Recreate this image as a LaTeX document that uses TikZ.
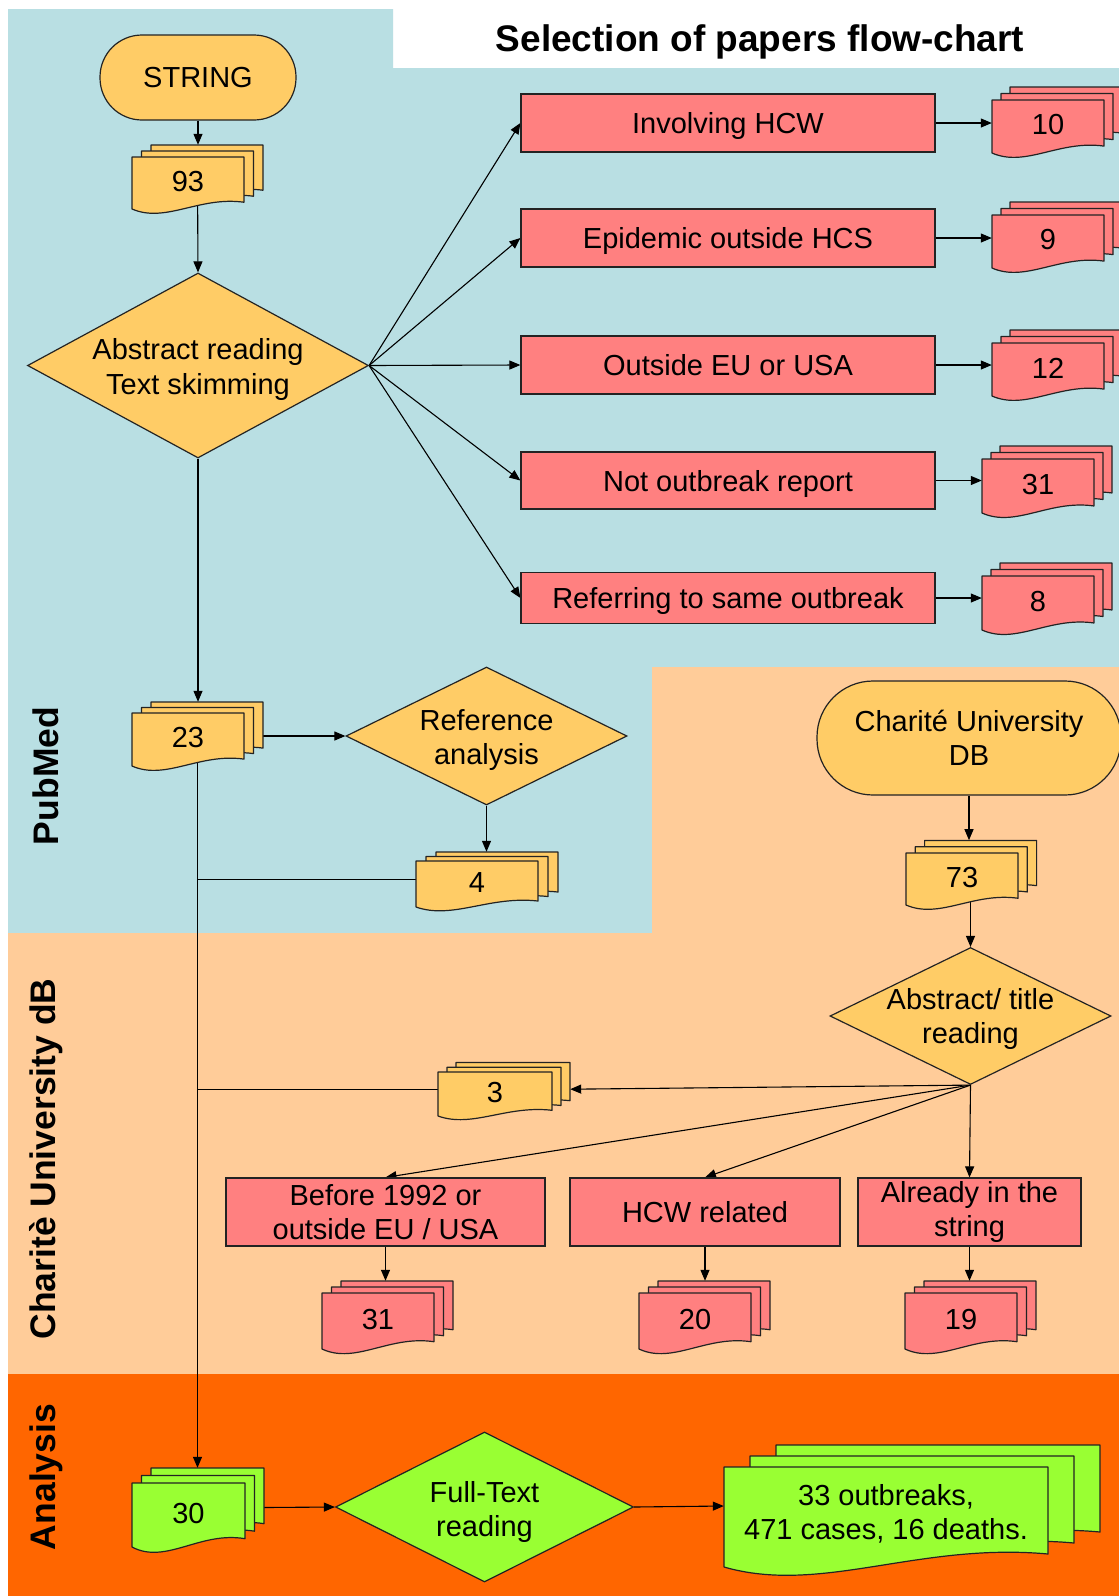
\documentclass[tikz,border=0pt]{standalone}
\usepackage{fontspec}
\setmainfont{Liberation Sans}
\usetikzlibrary{shapes.geometric,arrows.meta,fit}
\definecolor{bgblue}{RGB}{185,223,227}
\definecolor{bgpeach}{RGB}{255,204,153}
\definecolor{bgorange}{RGB}{255,102,0}
\definecolor{yel}{RGB}{255,204,102}
\definecolor{redc}{RGB}{255,128,128}
\definecolor{grn}{RGB}{153,255,51}
\definecolor{lineclr}{RGB}{35,35,35}
\pgfdeclarelayer{bg}
\pgfdeclarelayer{conn}
\pgfsetlayers{bg,conn,main}
% #1 name #2 x0 #3 y0 #4 w #5 h #6 dx #7 dy #8 fill #9 text
\newcommand\mdoc[9]{%
  \foreach \k in {2,1,0}{%
    \pgfmathsetmacro\ox{#2+\k*#6}%
    \pgfmathsetmacro\oy{#3-\k*#7}%
    \path[docline,fill=#8] (\ox,\oy) -- ({\ox+#4},\oy) -- ({\ox+#4},{\oy+0.87*#5})
      .. controls ({\ox+0.6*#4},{\oy+0.75*#5}) and ({\ox+0.3*#4},{\oy+1.28*#5}) .. (\ox,{\oy+#5}) -- cycle;
  }
  \node[inner sep=0pt, fit={(#2,{#3-2*#7}) ({#2+#4+2*#6},{#3+#5})}] (#1) {};
  \node[txt] (#1t) at ({#2+#4/2},{#3+0.47*#5}) {#9};
}
\begin{document}
\begin{tikzpicture}[x=1pt,y=-1pt,
  txt/.style={font=\fontsize{29}{34.5}\selectfont, align=center, inner sep=0pt},
  docline/.style={draw=lineclr, line width=1.2pt, line join=round},
  term/.style={rectangle, draw=lineclr, line width=1.2pt, fill=yel, txt},
  dia/.style={diamond, draw=lineclr, line width=1.2pt, inner sep=0pt},
  rbox/.style={rectangle, draw=lineclr, line width=1.2pt, fill=redc, txt},
  one/.style={text height=21pt, text depth=0pt},
  arr/.style={-{Triangle[length=11pt,width=9pt]}, line width=1.1pt, draw=black},
  plain/.style={line width=1.1pt, draw=black},
  side/.style={rotate=90, font=\bfseries\fontsize{35.5}{40}\selectfont, inner sep=0pt}
]
\useasboundingbox (0,0) rectangle (1119,1596);
\begin{pgfonlayer}{bg}
  \fill[white] (0,0) rectangle (1119,1596);
  \fill[bgblue] (8,9) -- (393,9) -- (393,68) -- (1119,68) -- (1119,667) -- (652,667) -- (652,933) -- (8,933) -- cycle;
  \fill[bgpeach] (652,667) -- (1119,667) -- (1119,1374) -- (8,1374) -- (8,933) -- (652,933) -- cycle;
  \fill[bgorange] (8,1374) rectangle (1119,1596);
\end{pgfonlayer}

\node[font=\bfseries\fontsize{37}{42}\selectfont, inner sep=0pt] (title) at (760,42) {Selection of papers flow-chart};
\node[side] (lpub) at (46,776) {PubMed};
\node[side] (lchar) at (46,1159) {Charitè University dB};
\node[side] (lana) at (46,1477) {Analysis};

% PubMed part
\node[term, minimum width=196pt, minimum height=85pt, rounded corners=42pt] (string) at (198,77.5) {STRING};
\mdoc{n93}{132}{157}{112}{52}{9.5}{6}{yel}{93}
\node[dia, fill=yel, minimum width=341pt, minimum height=185pt] (d1) at (198,365.5) {};
\node[txt, yshift=-4pt] (d1t) at (d1.center) {Abstract reading\\Text skimming};

\node[rbox, one, minimum width=414pt, minimum height=58pt] (r1) at (728,123) {Involving HCW};
\node[rbox, one, minimum width=414pt, minimum height=58pt] (r2) at (728,238) {Epidemic outside HCS};
\node[rbox, one, minimum width=414pt, minimum height=58pt] (r3) at (728,365) {Outside EU or USA};
\node[rbox, one, minimum width=414pt, minimum height=57pt] (r4) at (728,480.5) {Not outbreak report};
\node[rbox, one, minimum width=414pt, minimum height=51pt] (r5) at (728,598) {Referring to same outbreak};

\mdoc{n10}{992}{100}{112}{53}{9}{6.5}{redc}{10}
\mdoc{n9}{992}{215}{112}{53}{9}{6.5}{redc}{9}
\mdoc{n12}{992}{343}{112}{53}{9}{6.5}{redc}{12}
\mdoc{n31a}{982}{459}{112}{54}{9}{6.5}{redc}{31}
\mdoc{n8}{982}{576}{112}{54}{9}{6.5}{redc}{8}

\mdoc{n23}{132}{713}{112}{53}{9.5}{5.5}{yel}{23}
\node[dia, fill=yel, minimum width=281pt, minimum height=138pt] (dref) at (486.5,736) {};
\node[txt, yshift=-4pt] (dreft) at (dref.center) {Reference\\analysis};
\mdoc{n4}{416}{861}{122}{46}{10}{4.5}{yel}{4}

% Charite part
\node[term, minimum width=304pt, minimum height=114pt, rounded corners=56pt] (cdb) at (969,738) {Charité University\\DB};
\mdoc{n73}{906}{853}{112}{52}{9.3}{6.3}{yel}{73}
\node[dia, fill=yel, minimum width=281pt, minimum height=137pt] (d2) at (970.5,1016) {};
\node[txt, yshift=-3pt] (d2t) at (d2.center) {Abstract/ title\\reading};
\mdoc{n3}{438}{1072}{114}{44}{9}{4.8}{yel}{3}

\node[rbox, minimum width=319pt, minimum height=68pt] (b1) at (385.5,1212) {Before 1992 or\\outside EU / USA};
\node[rbox, one, minimum width=270pt, minimum height=68pt] (b2) at (705,1212) {HCW related};
\node[rbox, minimum width=223pt, minimum height=68pt] (b3) at (969.5,1212) {Already in the\\string};

\mdoc{n31b}{322}{1293}{112}{56}{9.5}{6}{redc}{31}
\mdoc{n20}{639}{1293}{112}{56}{9.5}{6}{redc}{20}
\mdoc{n19}{905}{1293}{112}{56}{9.5}{6}{redc}{19}

% Analysis part
\mdoc{n30}{132}{1483}{113}{64}{9.5}{7.5}{grn}{30}
\node[dia, fill=grn, minimum width=298pt, minimum height=150pt] (d3) at (484.5,1507) {};
\node[txt, yshift=-5pt] (d3t) at (d3.center) {Full-Text\\reading};
\mdoc{n33}{724}{1467}{324}{100}{26}{11}{grn}{33 outbreaks,\\471 cases, 16 deaths.}

\begin{pgfonlayer}{conn}
  \draw[arr] (string.south) -- (string.south |- n93.north);
  \draw[arr] (n93.center) -- (d1.north);
  \foreach \r in {r1,r2,r3,r4,r5} \draw[arr] (d1.east) -- (\r.west);
  \draw[arr] (r1.east) -- (r1.east -| n10.west);
  \draw[arr] (r2.east) -- (r2.east -| n9.west);
  \draw[arr] (r3.east) -- (r3.east -| n12.west);
  \draw[arr] (r4.east) -- (r4.east -| n31a.west);
  \draw[arr] (r5.east) -- (r5.east -| n8.west);
  \draw[arr] (d1.south) -- (d1.south |- n23.north);
  \draw[arr] (n23.center) -- (n23.center |- n30.north);
  \draw[arr] (dref.west -| n23.east) -- (dref.west);
  \draw[arr] (dref.south) -- (dref.south |- n4.north);
  \draw[plain] (n4.center) -- (n4.center -| n23.center);
  \draw[arr] (cdb.south) -- (cdb.south |- n73.north);
  \draw[arr] (d2.north |- n73.center) -- (d2.north);
  \draw[arr] (d2.south) -- (n3.east);
  \draw[plain] (n3.center) -- (n3.center -| n23.center);
  \draw[arr] (d2.south) -- (b1.north);
  \draw[arr] (d2.south) -- (b2.north);
  \draw[arr] (d2.south) -- (b3.north);
  \draw[arr] (b1.south) -- (b1.south |- n31b.north);
  \draw[arr] (b2.south) -- (b2.south |- n20.north);
  \draw[arr] (b3.south) -- (b3.south |- n19.north);
  \draw[arr] (n30.east) -- (d3.west);
  \draw[arr] (d3.east) -- (n33.west);
\end{pgfonlayer}
\end{tikzpicture}
\end{document}
